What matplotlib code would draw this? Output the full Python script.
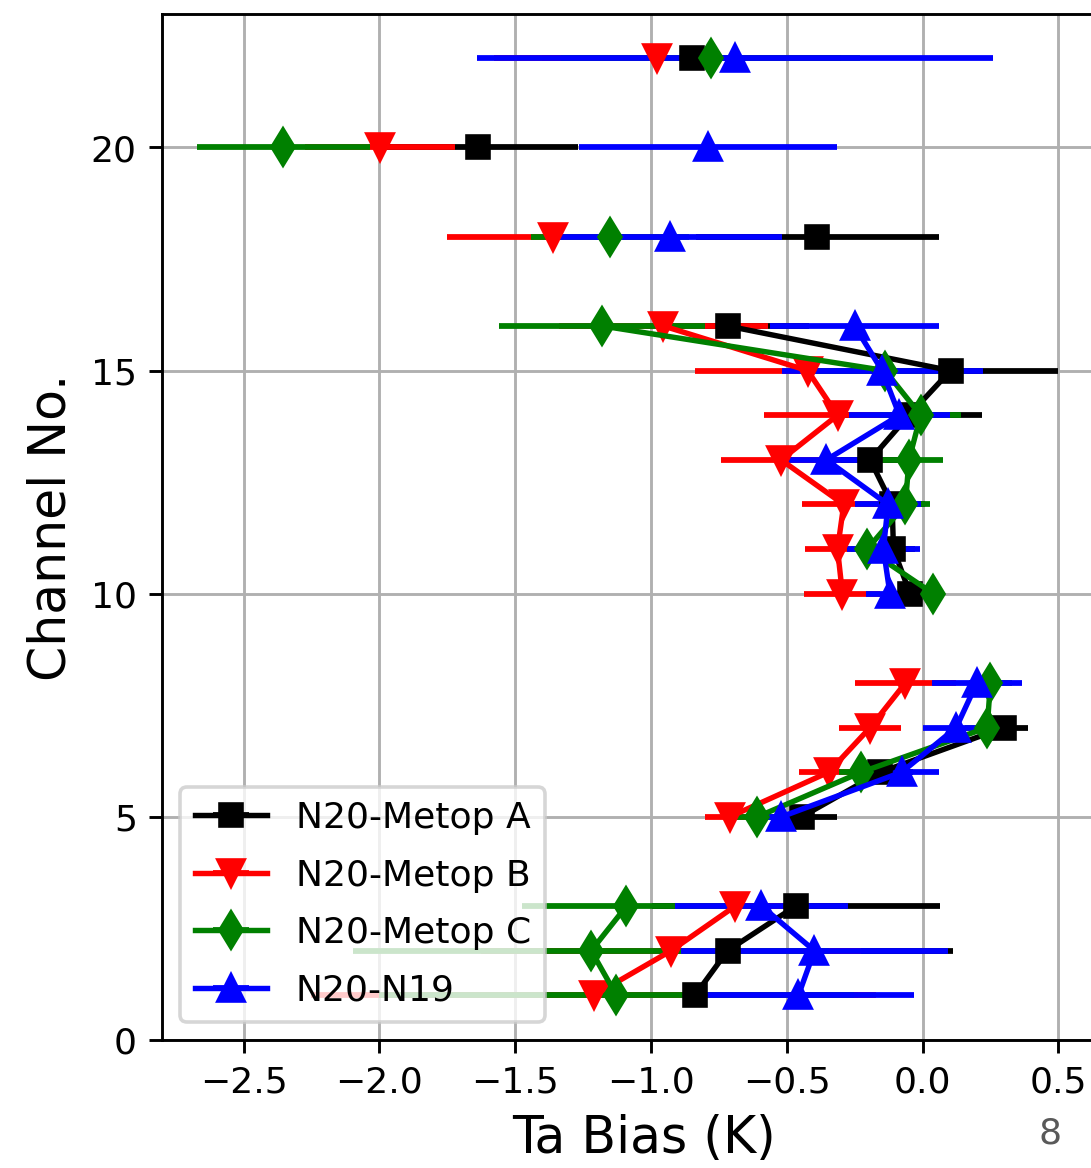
import numpy as np
import matplotlib
matplotlib.use("Agg")
import matplotlib.pyplot as plt

nan = np.nan
channels = np.arange(1, 23)

# bias and std per channel (1..22); nan = channel not compared
metop_a = [-0.838, -0.718, -0.467, nan, -0.445, -0.155, 0.30, nan, nan, -0.046, -0.107,
           -0.112, -0.193, -0.05, 0.103, -0.718, nan, -0.387, nan, -1.636, nan, -0.85]
metop_a_err = [0.60, 0.83, 0.53, nan, 0.13, 0.12, 0.09, nan, nan, 0.08, 0.08,
               0.12, 0.18, 0.27, 0.397, 0.30, nan, 0.447, nan, 0.366, nan, 0.55]

metop_b = [-1.21, -0.926, -0.69, nan, -0.71, -0.346, -0.193, -0.063, nan, -0.295, -0.313,
           -0.29, -0.521, -0.313, -0.423, -0.954, nan, -1.36, nan, -1.997, nan, -0.976]
metop_b_err = [1.04, 0.70, 0.20, nan, 0.09, 0.11, 0.115, 0.185, nan, 0.14, 0.12,
               0.155, 0.22, 0.27, 0.415, 0.384, nan, 0.39, nan, 0.277, nan, 0.60]

metop_c = [-1.127, -1.22, -1.09, nan, -0.608, -0.226, 0.238, 0.25, nan, 0.04, -0.204,
           -0.063, -0.05, -0.007, -0.138, -1.18, nan, -1.15, nan, -2.353, nan, -0.78]
metop_c_err = [0.873, 0.876, 0.385, nan, 0.08, 0.08, 0.08, 0.08, nan, 0.03, 0.06,
               0.09, 0.126, 0.15, 0.30, 0.38, nan, 0.29, nan, 0.32, nan, 0.55]

n19 = [-0.457, -0.398, -0.593, nan, -0.52, -0.077, 0.124, 0.20, nan, -0.12, -0.144,
       -0.127, -0.354, -0.085, -0.149, -0.25, nan, -0.93, nan, -0.79, nan, -0.69]
n19_err = [0.425, 0.49, 0.318, nan, 0.10, 0.137, 0.121, 0.165, nan, 0.09, 0.135,
           0.12, 0.15, 0.185, 0.37, 0.31, nan, 0.414, nan, 0.475, nan, 0.95]

series = [
    ("N20-Metop A", metop_a, metop_a_err, "k", "s", 6.2),
    ("N20-Metop B", metop_b, metop_b_err, "r", "v", 7),
    ("N20-Metop C", metop_c, metop_c_err, "g", "d", 7),
    ("N20-N19", n19, n19_err, "b", "^", 7),
]

DPI = 260
fig = plt.figure(figsize=(1091.4 / DPI, 1168.4 / DPI), dpi=DPI)
xmin, xmax = -2.8, 0.75
ax = fig.add_axes([162 / 1091, 128 / 1168, (xmax - xmin) * 271.5 / 1091, 1026 / 1168])

for label, bias, err, color, marker, ms in series:
    ax.errorbar(bias, channels, xerr=err, color=color, marker=marker, ms=ms,
                lw=1.5, elinewidth=1.6, label=label)

ax.set_xlim(xmin, xmax)
ax.set_ylim(0, 23)
ax.set_xticks([-2.5, -2.0, -1.5, -1.0, -0.5, 0.0, 0.5])
ax.set_yticks([0, 5, 10, 15, 20])
ax.grid(True)
ax.set_xlabel("Ta Bias (K)", fontsize=14)
ax.set_ylabel("Channel No.", fontsize=14)
ax.legend(loc="lower left", labelspacing=0.65)

fig.text(1050 / 1091, 1 - 1133 / 1168, "8", color="#595959", fontsize=10,
         ha="center", va="center")

fig.savefig("out.png", dpi=DPI)
